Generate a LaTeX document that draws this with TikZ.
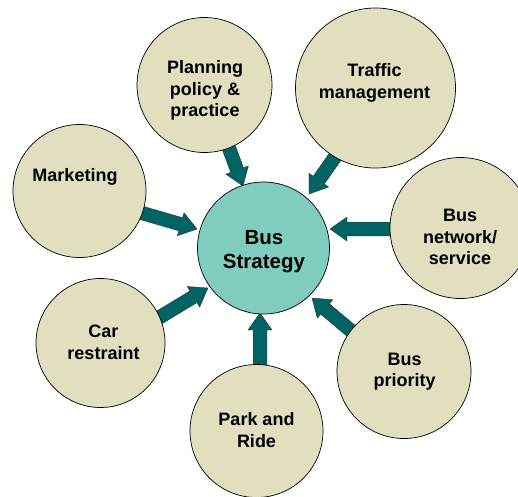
\documentclass[tikz,border=0pt]{standalone}
\usepackage{fontspec}
\setmainfont{Liberation Sans}
\usetikzlibrary{calc}
\definecolor{beige}{RGB}{225,223,192}
\definecolor{tealc}{RGB}{128,204,191}
\definecolor{arrowc}{RGB}{0,100,100}
\tikzset{
  outer/.style={circle, draw=black, line width=0.7pt, fill=beige, inner sep=0pt},
  hub/.style={circle, draw=black, line width=0.7pt, fill=tealc, inner sep=0pt, minimum size=132pt},
  lbl/.style={align=center, inner sep=0pt, font=\bfseries\fontsize{18}{21.5}\selectfont},
  hublbl/.style={align=center, inner sep=0pt, font=\bfseries\fontsize{20.5}{24.5}\selectfont},
  blockarr/.style={fill=arrowc, draw=black!80, line width=0.4pt, line join=miter}
}
\newcommand\blockarrow[2]{%
  \path[blockarr] let \p1=($(#2)-(#1)$), \n1={atan2(\y1,\x1)}, \n2={veclen(\x1,\y1)} in
    [shift={(#1)}, rotate=\n1]
    (0,-6.8) -- ({\n2-17},-6.8) -- ({\n2-17},-12) -- ({\n2},0) -- ({\n2-17},12) -- ({\n2-17},6.8) -- (0,6.8) -- cycle;}
\begin{document}
\begin{tikzpicture}[x=1pt,y=-1pt]
\useasboundingbox (0,0) rectangle (518,496);
\clip (0,0) rectangle (518,496);
% arrow end points
\coordinate (t1) at (226,140);  \coordinate (h1) at (243,186);
\coordinate (t2) at (342,147);  \coordinate (h2) at (309,194);
\coordinate (t3) at (135,211);  \coordinate (h3) at (197,229);
\coordinate (t4) at (400,229);  \coordinate (h4) at (330,229);
\coordinate (t5) at (155,320);  \coordinate (h5) at (208,288);
\coordinate (t6) at (260,375);  \coordinate (h6) at (260,313);
\coordinate (t7) at (362,340);  \coordinate (h7) at (312,298);
% arrows
\blockarrow{t1}{h1}
\blockarrow{t2}{h2}
\blockarrow{t3}{h3}
\blockarrow{t4}{h4}
\blockarrow{t5}{h5}
\blockarrow{t6}{h6}
\blockarrow{t7}{h7}
% circles
\node[hub] (bs) at (263.5,248) {};
\node[outer, minimum size=135pt] (pp) at (204.5,85) {};
\node[outer, minimum size=160pt] (tm) at (375.5,88) {};
\node[outer, minimum size=133pt] (mk) at (79.5,191) {};
\node[outer, minimum size=141pt] (bn) at (460.5,228) {};
\node[outer, minimum size=129pt] (cr) at (100.5,343) {};
\node[outer, minimum size=133pt] (pr) at (256.5,431) {};
\node[outer, minimum size=134pt] (bp) at (404,371.5) {};
% labels
\node[hublbl] (bsl) at (264,251.5) {Bus\\Strategy};
\node[lbl] (ppl) at (205,90.5) {Planning\\policy \&\\practice};
\node[lbl] (tml) at (374.5,83) {Traffic\\management};
\node[lbl] (mkl) at (75,177) {Marketing};
\node[lbl] (bnl) at (460,237) {Bus\\network/\\service};
\node[lbl] (crl) at (103.5,342.5) {Car\\restraint};
\node[lbl] (prl) at (256.5,430) {Park and\\Ride};
\node[lbl] (bpl) at (404.5,371.5) {Bus\\priority};
\end{tikzpicture}
\end{document}
